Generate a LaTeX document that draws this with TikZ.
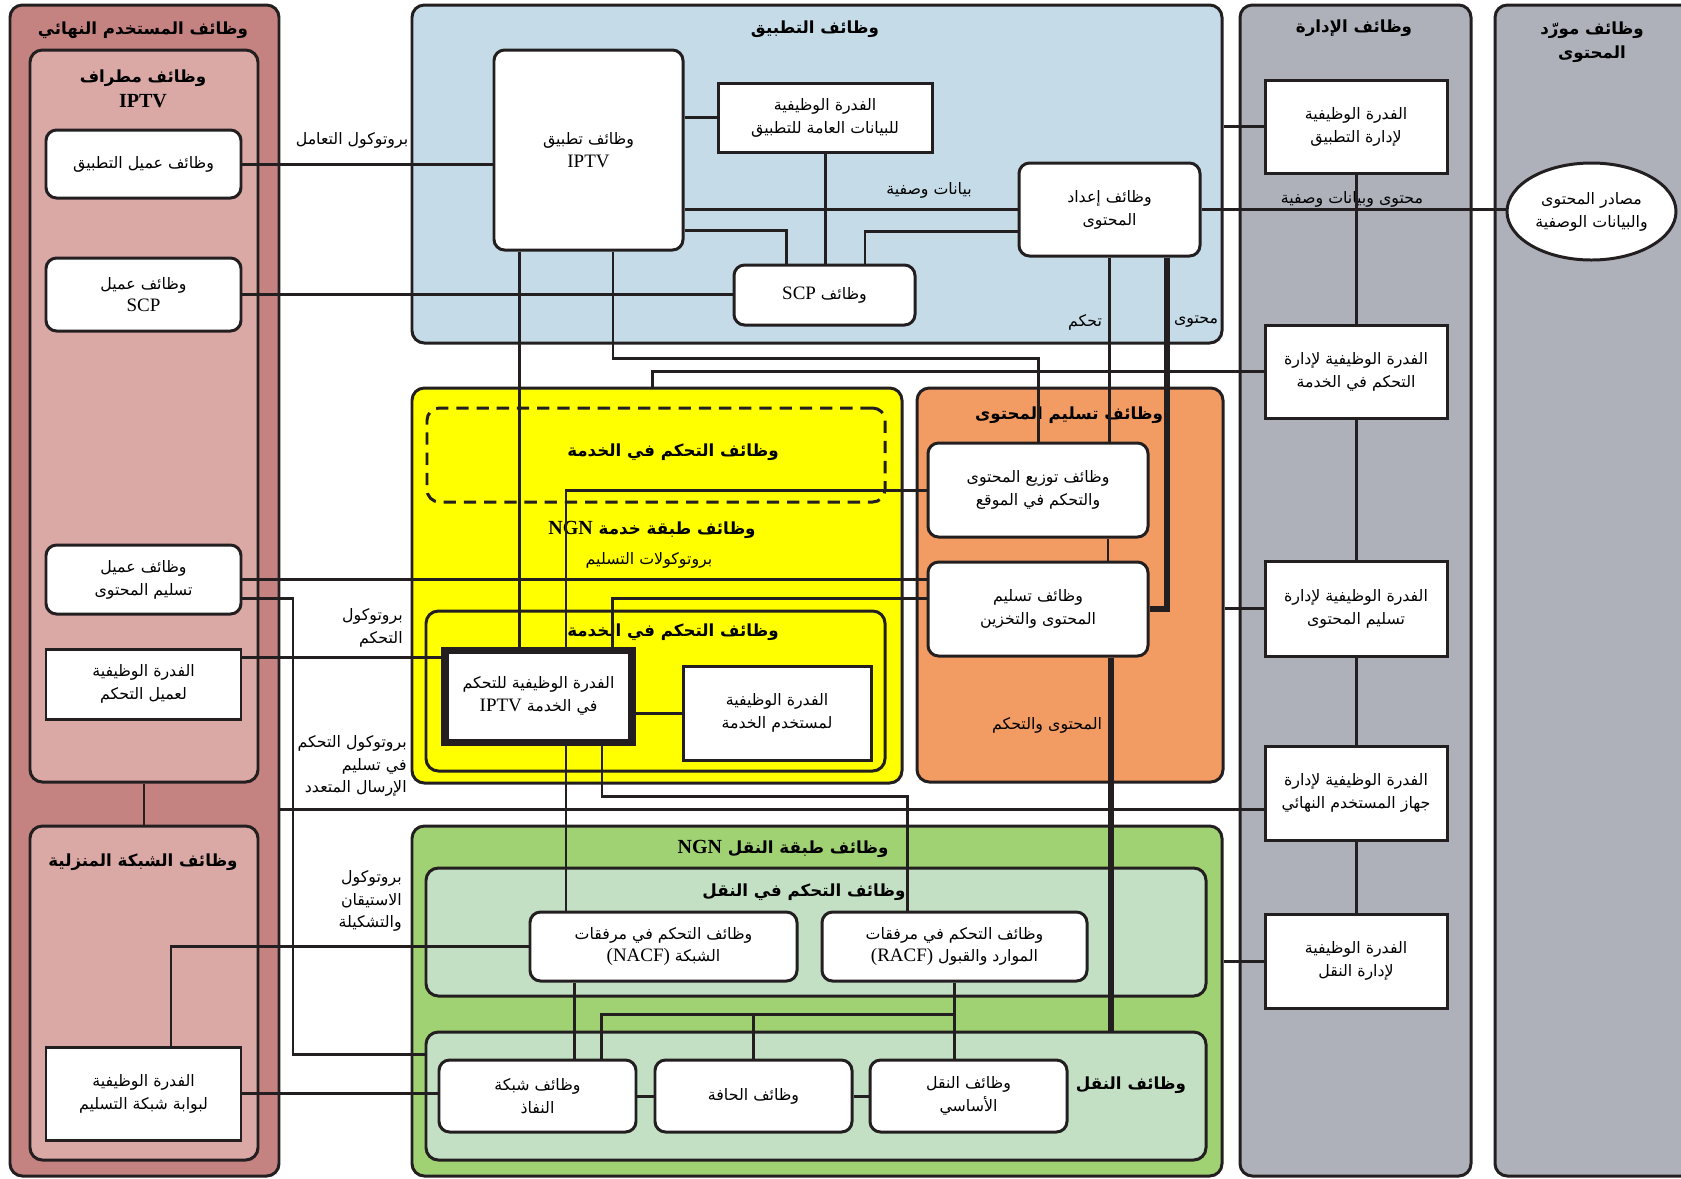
\documentclass[tikz,border=0pt]{standalone}
\usepackage{fontspec}
\setmainfont{Liberation Serif}
\newfontfamily\arabicfont[Script=Arabic]{DejaVu Sans}
\newfontfamily\latinfont[Scale=1.2]{Liberation Serif}
\TeXXeTstate=1
\usetikzlibrary{shapes.geometric}
\definecolor{eucol}{RGB}{196,131,128}
\definecolor{termcol}{RGB}{218,168,165}
\definecolor{appcol}{RGB}{197,220,232}
\definecolor{mgcol}{RGB}{174,177,186}
\definecolor{cdcol}{RGB}{242,156,99}
\definecolor{trcol}{RGB}{160,210,115}
\definecolor{ltgreen}{RGB}{196,224,196}
\definecolor{linecol}{RGB}{35,31,32}
\definecolor{svcyellow}{RGB}{255,255,0}
\newcommand{\ar}[1]{{\arabicfont\beginR #1\endR}}
\newcommand{\lt}[1]{\beginL{\latinfont #1}\endL}
\newcommand{\boxfont}{\fontsize{9}{13}\selectfont}
\newcommand{\headfont}{\fontsize{9.5}{14}\selectfont\bfseries}
\tikzset{sz/.style 2 args={minimum width=#1*0.02cm, minimum height=#2*0.02cm}}

\begin{document}
\begin{tikzpicture}[x=0.02cm,y=-0.02cm]
\tikzstyle{cont}=[draw=linecol, line width=1.7pt, rounded corners=7pt, inner sep=0pt]
\tikzstyle{rbox}=[draw=linecol, fill=white, line width=1.7pt, rounded corners=6pt, inner sep=0pt, align=center, font=\boxfont]
\tikzstyle{sbox}=[rbox, sharp corners]
\tikzstyle{ttl}=[font=\headfont, align=center, inner sep=0pt]
\tikzstyle{lbl}=[font=\boxfont, align=right, inner sep=0pt]
\tikzstyle{conn}=[draw=linecol, line width=1.7pt]
\tikzstyle{fat}=[draw=linecol, line width=3.6pt]
\useasboundingbox (0,0) rectangle (1681,1178);

% containers
\node[cont, fill=eucol, sz={269}{1171}] (enduser) at (144.5,590.5) {};
\node[cont, fill=termcol, sz={228}{732}] (terminal) at (144,416) {};
\node[cont, fill=termcol, sz={228}{334}] (homenet) at (144,993) {};
\node[cont, fill=appcol, sz={810}{338}] (appf) at (817,174) {};
\node[cont, fill=mgcol, sz={231}{1171}] (mgmt) at (1355.5,590.5) {};
\node[cont, fill=mgcol, sz={210}{1171}] (prov) at (1600,590.5) {};
\node[cont, fill=svcyellow, sz={490}{395}] (svcst) at (657,585.5) {};
\node[cont, dash pattern=on 7pt off 4.5pt, sz={458}{94}] (svcdash) at (656,455) {};
\node[cont, sz={459}{160}] (svcctl) at (655.5,691) {};
\node[cont, fill=cdcol, sz={306}{394}] (cdf) at (1070,585) {};
\node[cont, fill=trcol, sz={810}{350}] (tstr) at (817,1001) {};
\node[cont, fill=ltgreen, sz={780}{128}] (tctl) at (816,932) {};
\node[cont, fill=ltgreen, sz={780}{128}] (tfun) at (816,1096) {};

% titles
\node[ttl] (euT) at (143,30) {\ar{وظائف المستخدم النهائي}};
\node[ttl] (termT) at (143,89) {\ar{وظائف مطراف}\\\lt{IPTV}};
\node[ttl] (homeT) at (143,862) {\ar{وظائف الشبكة المنزلية}};
\node[ttl] (appT) at (815,29) {\ar{وظائف التطبيق}};
\node[ttl] (mgT) at (1354,28) {\ar{وظائف الإدارة}};
\node[ttl] (provT) at (1592,42) {\ar{وظائف مورّد}\\\ar{المحتوى}};
\node[ttl] (dashT) at (673,452) {\ar{وظائف التحكم في الخدمة}};
\node[ttl] (svcstT) at (652,530) {\ar{وظائف طبقة خدمة \lt{NGN}}};
\node[ttl] (svcctlT) at (673,632) {\ar{وظائف التحكم في الخدمة}};
\node[ttl] (cdfT) at (1069,415) {\ar{وظائف تسليم المحتوى}};
\node[ttl] (tstrT) at (783,849) {\ar{وظائف طبقة النقل \lt{NGN}}};
\node[ttl] (tctlT) at (804,892) {\ar{وظائف التحكم في النقل}};
\node[ttl] (tfunT) at (1131,1085) {\ar{وظائف النقل}};

% labels
\node[lbl] (intL) at (352,140) {\ar{بروتوكول التعامل}};
\node[lbl] (metaL) at (929,190) {\ar{بيانات وصفية}};
\node[lbl] (cmL) at (1352,199) {\ar{محتوى وبيانات وصفية}};
\node[lbl] (ctlL) at (1085,322) {\ar{تحكم}};
\node[lbl] (cntL) at (1196,322) {\ar{محتوى}};
\node[lbl] (delprotL) at (649,560) {\ar{بروتوكولات التسليم}};
\node[lbl, anchor=east] (ctlprotL) at (403,628) {\ar{بروتوكول}\\\ar{التحكم}};
\node[lbl, anchor=east] (mcL) at (407,766) {\ar{بروتوكول التحكم}\\\ar{في تسليم}\\\ar{الإرسال المتعدد}};
\node[lbl, anchor=east] (authL) at (402,901) {\ar{بروتوكول}\\\ar{الاستيقان}\\\ar{والتشكيلة}};
\node[lbl] (cacL) at (1047,725) {\ar{المحتوى والتحكم}};

% end user boxes
\node[rbox, sz={195}{68}] (appcl) at (143.5,164) {\ar{وظائف عميل التطبيق}};
\node[rbox, sz={195}{73}] (scpcl) at (143.5,294.5) {\ar{وظائف عميل}\\\lt{SCP}};
\node[rbox, sz={195}{69}] (cdcl) at (143.5,579.5) {\ar{وظائف عميل}\\\ar{تسليم المحتوى}};
\node[sbox, sz={195}{70}] (ctlcl) at (143.5,684) {\ar{الفدرة الوظيفية}\\\ar{لعميل التحكم}};
\node[sbox, sz={195}{93}] (gwfb) at (143.5,1093.5) {\ar{الفدرة الوظيفية}\\\ar{لبوابة شبكة التسليم}};

% application boxes
\node[rbox, sz={189}{200}] (iptvapp) at (588.5,150) {\ar{وظائف تطبيق}\\\lt{IPTV}};
\node[sbox, sz={214}{69}] (gendata) at (825,117.5) {\ar{الفدرة الوظيفية}\\\ar{للبيانات العامة للتطبيق}};
\node[rbox, sz={181}{60}] (scp) at (824.5,295) {\ar{وظائف \lt{SCP}}};
\node[rbox, sz={181}{93}] (cprep) at (1109.5,209.5) {\ar{وظائف إعداد}\\\ar{المحتوى}};

% management boxes
\node[sbox, sz={182}{93}] (appmg) at (1356,126.5) {\ar{الفدرة الوظيفية}\\\ar{لإدارة التطبيق}};
\node[sbox, sz={182}{93}] (scmg) at (1356,371.5) {\ar{الفدرة الوظيفية لإدارة}\\\ar{التحكم في الخدمة}};
\node[sbox, sz={182}{95}] (cdmg) at (1356,608.5) {\ar{الفدرة الوظيفية لإدارة}\\\ar{تسليم المحتوى}};
\node[sbox, sz={182}{94}] (eumg) at (1356,793) {\ar{الفدرة الوظيفية لإدارة}\\\ar{جهاز المستخدم النهائي}};
\node[sbox, sz={182}{94}] (trmg) at (1356,961) {\ar{الفدرة الوظيفية}\\\ar{لإدارة النقل}};
\node[rbox, shape=ellipse, sz={169}{97}] (csrc) at (1591.5,211.5) {\ar{مصادر المحتوى}\\\ar{والبيانات الوصفية}};

% service and delivery boxes
\node[rbox, sz={220}{94}] (dist) at (1038,490) {\ar{وظائف توزيع المحتوى}\\\ar{والتحكم في الموقع}};
\node[rbox, sz={220}{94}] (cdel) at (1038,609) {\ar{وظائف تسليم}\\\ar{المحتوى والتخزين}};
\node[sbox, line width=4pt, sz={187}{92}] (iptvsc) at (538.5,696) {\ar{الفدرة الوظيفية للتحكم}\\\ar{في الخدمة \lt{IPTV}}};
\node[sbox, sz={188}{94}] (uprof) at (777,713) {\ar{الفدرة الوظيفية}\\\ar{لمستخدم الخدمة}};

% transport boxes
\node[rbox, sz={267}{69}] (nacf) at (663.5,946.5) {\ar{وظائف التحكم في مرفقات}\\\ar{الشبكة \lt{(NACF)}}};
\node[rbox, sz={265}{69}] (racf) at (954.5,946.5) {\ar{وظائف التحكم في مرفقات}\\\ar{الموارد والقبول \lt{(RACF)}}};
\node[rbox, sz={197}{72}] (acc) at (537.5,1096) {\ar{وظائف شبكة}\\\ar{النفاذ}};
\node[rbox, sz={197}{72}] (edge) at (753.5,1096) {\ar{وظائف الحافة}};
\node[rbox, sz={197}{72}] (core) at (968.5,1096) {\ar{وظائف النقل}\\\ar{الأساسي}};

% connectors
\draw[conn] (appcl.east) -- (appcl.east -| iptvapp.west);
\draw[conn] (scpcl.east) -- (scpcl.east -| scp.west);
\draw[conn] (gendata.west -| iptvapp.east) -- (gendata.west);
\draw[conn] (gendata.south) -- (gendata.south |- scp.north);
\draw[conn] (cprep.west -| iptvapp.east) -- (cprep.west);
\draw[conn] (iptvapp.east |- 0,230) -| ([xshift=-0.77cm]scp.north);
\draw[conn] (cprep.west |- 0,231) -| ([xshift=0.81cm]scp.north);
\draw[conn] (cprep.east) -- (cprep.east -| csrc.west);
\draw[conn] (appmg.west) -- (appmg.west -| appf.east);
\draw[conn] (appmg.south) -- (scmg.north);
\draw[conn] (scmg.south) -- (cdmg.north);
\draw[conn] (cdmg.south) -- (eumg.north);
\draw[conn] (eumg.south) -- (trmg.north);
\draw[conn] (scmg.west) -| ([xshift=-0.1cm]svcst.north);
\draw[conn] ([xshift=-1.39cm]iptvapp.south) -- ([xshift=-1.39cm]iptvapp.south |- iptvsc.north);
\draw[conn] ([xshift=0.49cm]iptvapp.south) -- ++(0,107) -| (dist.north);
\draw[conn] (cprep.south) -- (cprep.south |- dist.north);
\draw[conn] ([xshift=1.4cm]dist.south) -- ([xshift=1.4cm]dist.south |- cdel.north);
\draw[fat] ([xshift=1.15cm]cprep.south) |- (cdel.east);
\draw[conn] (dist.west) -| ([xshift=0.55cm]iptvsc.north);
\draw[conn] (cdel.west |- 0,598) -| ([xshift=1.49cm]iptvsc.north);
\draw[conn] (cdel.west |- cdcl.east) -- (cdcl.east);
\draw[conn] (cdcl.east |- 0,598) -- (293,598) -- (293,1054) -- (tfun.west |- 0,1054);
\draw[conn] (ctlcl.east |- 0,657) -- (iptvsc.west |- 0,657);
\draw[conn] (iptvsc.east |- uprof.west) -- (uprof.west);
\draw[conn] ([xshift=0.55cm]iptvsc.south) -- ([xshift=0.55cm]iptvsc.south |- nacf.north);
\draw[conn] ([xshift=1.27cm]iptvsc.south) -- ++(0,51) -| ([xshift=-0.95cm]racf.north);
\draw[fat] ([xshift=1.46cm]cdel.south) -- ([xshift=1.46cm]cdel.south |- tfun.north);
\draw[conn] (cdmg.west) -- (cdmg.west -| cdf.east);
\draw[conn] (eumg.west |- 0,809) -- (enduser.east |- 0,809);
\draw[conn] (trmg.west) -- (trmg.west -| tstr.east);
\draw[conn] (terminal.south) -- (homenet.north);
\draw[conn] ([xshift=0.55cm]gwfb.north) |- (nacf.west);
\draw[conn] (gwfb.east) -- (gwfb.east -| acc.west);
\draw[conn] (acc.east) -- (edge.west);
\draw[conn] (edge.east) -- (core.west);
\draw[conn] ([xshift=-1.79cm]nacf.south) -- ([xshift=-1.79cm]nacf.south |- acc.north);
\draw[conn] (racf.south) -- (racf.south |- core.north);
\draw[conn] (racf.south |- 0,1014) -| ([xshift=1.29cm]acc.north);
\draw[conn] (edge.north |- 0,1014) -- (edge.north);
\end{tikzpicture}
\end{document}
